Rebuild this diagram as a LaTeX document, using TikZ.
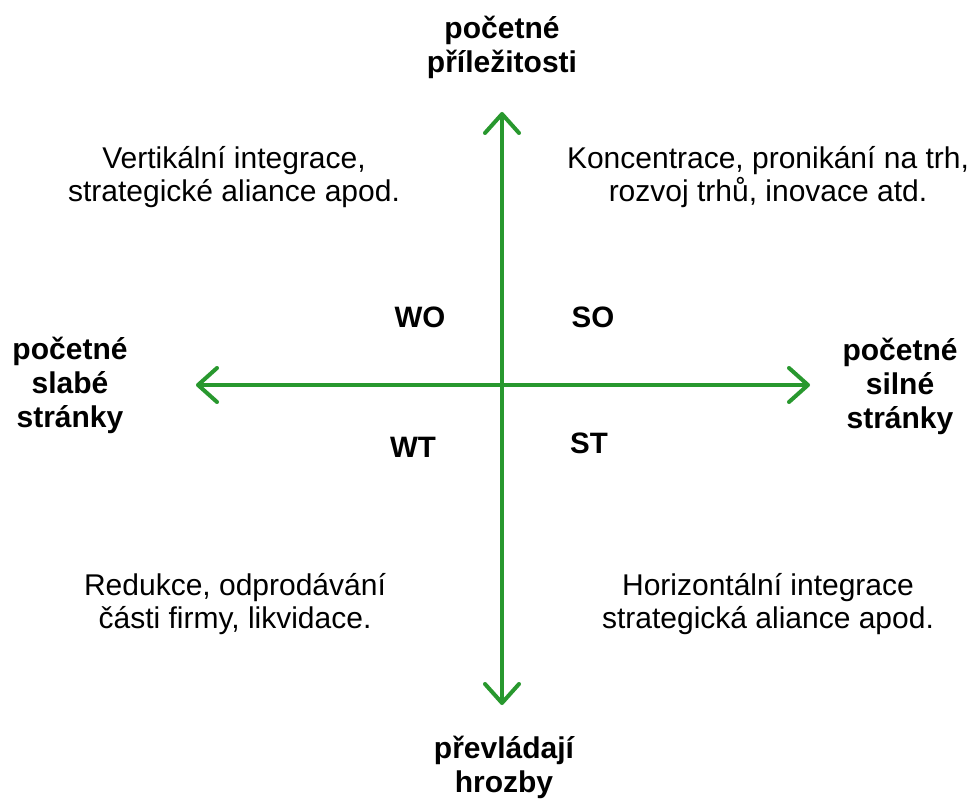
\documentclass[tikz,border=0pt]{standalone}
\usepackage{fontspec}
\setmainfont{Liberation Sans}
\usetikzlibrary{arrows.meta}
\definecolor{axisgreen}{RGB}{40,152,46}
\begin{document}
\begin{tikzpicture}[x=1pt,y=-1pt,
  barb/.tip={Straight Barb[length=19pt,width=34pt,line cap=round,line join=round]},
  axis/.style={draw=axisgreen,line width=4pt,line cap=round,barb-barb},
  lbl/.style={font=\fontsize{30}{34}\selectfont\bfseries,align=center,anchor=base,inner sep=0pt},
  txt/.style={font=\fontsize{30}{33}\selectfont,align=center,anchor=base,inner sep=0pt},
  quad/.style={font=\fontsize{29.5}{33}\selectfont\bfseries,anchor=base,inner sep=0pt}]
\useasboundingbox[fill=white] (0,0) rectangle (974,799);
\coordinate (top) at (502,112);
\coordinate (bot) at (502,705);
\coordinate (lft) at (196,385);
\coordinate (rgt) at (810,385);
\draw[axis] (bot) -- (top);
\draw[axis] (lft) -- (rgt);
\node[lbl] (lo) at (502,73) {početné\\příležitosti};
\node[lbl] (lt) at (504,792) {převládají\\hrozby};
\node[lbl] (ll) at (70,427) {početné\\slabé\\stránky};
\node[lbl] (lr) at (900,428) {početné\\silné\\stránky};
\node[txt] (ul) at (234,202) {Vertikální integrace,\\strategické aliance apod.};
\node[txt] (ur) at (768,202) {Koncentrace, pronikání na trh,\\rozvoj trhů, inovace atd.};
\node[txt] (dl) at (235,628) {Redukce, odprodávání\\části firmy, likvidace.};
\node[txt] (dr) at (768,628) {Horizontální integrace\\strategická aliance apod.};
\node[quad] (wo) at (420,327) {WO};
\node[quad] (so) at (593,327) {SO};
\node[quad] (wt) at (413,457) {WT};
\node[quad] (st) at (589,453) {ST};
\end{tikzpicture}
\end{document}
